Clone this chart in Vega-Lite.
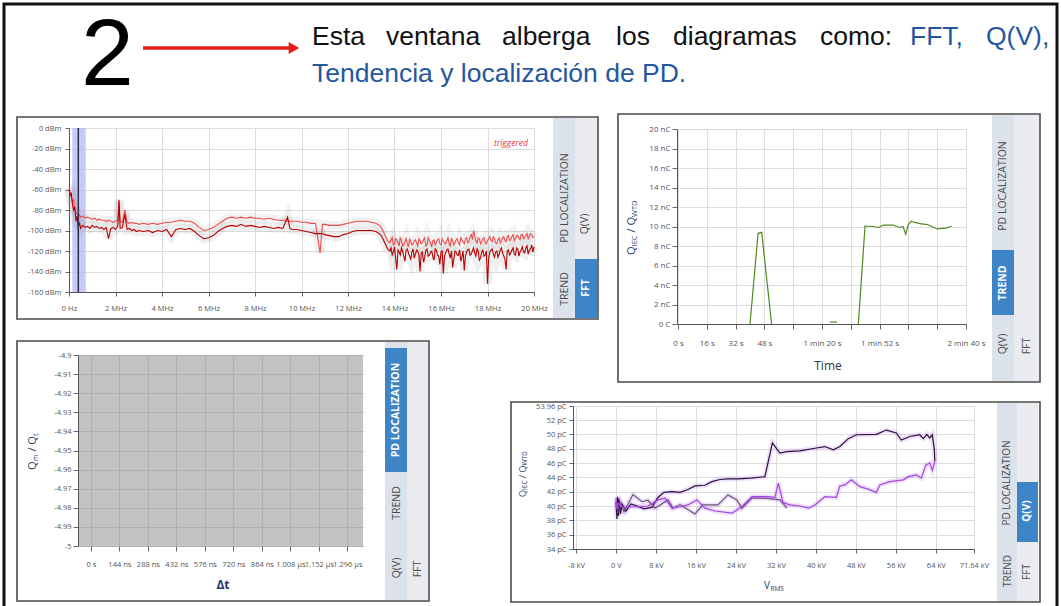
{
"$schema": "https://vega.github.io/schema/vega-lite/v6.json",
"width": 1061,
"height": 606,
"autosize": "none",
"padding": 0,
"background": "#ffffff",
"config": {
  "view": {"stroke": null},
  "axis": {"labelFont": "Open Sans", "labelFontSize": 7.5, "labelColor": "#555555", "tickColor": "#666666", "domainColor": "#555555", "gridColor": "#dcdcdc", "tickSize": 4, "labelFlush": false, "labelOverlap": false}
},
"datasets": {
  "fft": [
    {"f":0,"hi":-58,"lo":-60},{"f":0.05,"hi":-63,"lo":-66},{"f":0.1,"hi":-68,"lo":-64},{"f":0.15,"hi":-72,"lo":-75},{"f":0.2,"hi":-70,"lo":-80},{"f":0.25,"hi":-79,"lo":-77},{"f":0.3,"hi":-82,"lo":-91},{"f":0.35,"hi":-84,"lo":-86},{"f":0.4,"hi":-86,"lo":-97},{"f":0.45,"hi":-85,"lo":-92},{"f":0.5,"hi":-87,"lo":-98},
    {"f":0.6,"hi":-86,"lo":-95},{"f":0.7,"hi":-88,"lo":-97},{"f":0.8,"hi":-87,"lo":-96},{"f":0.9,"hi":-88,"lo":-98},{"f":1.0,"hi":-89,"lo":-95},{"f":1.1,"hi":-88,"lo":-97},{"f":1.2,"hi":-90,"lo":-96},{"f":1.3,"hi":-89,"lo":-98},{"f":1.4,"hi":-90,"lo":-97},{"f":1.5,"hi":-90,"lo":-99},
    {"f":1.6,"hi":-91,"lo":-97},{"f":1.7,"hi":-90,"lo":-108},{"f":1.8,"hi":-91,"lo":-98},{"f":1.9,"hi":-92,"lo":-97},{"f":2.0,"hi":-91,"lo":-99},{"f":2.1,"hi":-90,"lo":-96},{"f":2.15,"hi":-72,"lo":-70},{"f":2.2,"hi":-91,"lo":-98},{"f":2.3,"hi":-92,"lo":-97},{"f":2.4,"hi":-80,"lo":-84},
    {"f":2.5,"hi":-92,"lo":-99},{"f":2.6,"hi":-93,"lo":-98},{"f":2.7,"hi":-92,"lo":-100},{"f":2.8,"hi":-93,"lo":-99},{"f":2.9,"hi":-93,"lo":-101},{"f":3.0,"hi":-94,"lo":-100},{"f":3.2,"hi":-93,"lo":-101},{"f":3.4,"hi":-94,"lo":-100},{"f":3.6,"hi":-93,"lo":-102},{"f":3.8,"hi":-94,"lo":-100},
    {"f":4.0,"hi":-93,"lo":-101},{"f":4.2,"hi":-92,"lo":-99},{"f":4.4,"hi":-92,"lo":-106},{"f":4.6,"hi":-91,"lo":-99},{"f":4.8,"hi":-90,"lo":-98},{"f":5.0,"hi":-91,"lo":-99},{"f":5.2,"hi":-91,"lo":-98},{"f":5.4,"hi":-93,"lo":-101},{"f":5.6,"hi":-97,"lo":-105},{"f":5.8,"hi":-100,"lo":-108},
    {"f":6.0,"hi":-99,"lo":-107},{"f":6.2,"hi":-97,"lo":-105},{"f":6.4,"hi":-94,"lo":-101},{"f":6.6,"hi":-91,"lo":-98},{"f":6.8,"hi":-88,"lo":-96},{"f":7.0,"hi":-87,"lo":-95},{"f":7.2,"hi":-88,"lo":-96},{"f":7.4,"hi":-87,"lo":-94},{"f":7.6,"hi":-88,"lo":-96},{"f":7.8,"hi":-87,"lo":-95},
    {"f":8.0,"hi":-88,"lo":-96},{"f":8.2,"hi":-88,"lo":-97},{"f":8.4,"hi":-89,"lo":-96},{"f":8.6,"hi":-88,"lo":-97},{"f":8.8,"hi":-89,"lo":-98},{"f":9.0,"hi":-90,"lo":-97},{"f":9.2,"hi":-90,"lo":-98},{"f":9.4,"hi":-91,"lo":-87},{"f":9.5,"hi":-91,"lo":-98},{"f":9.6,"hi":-91,"lo":-99},
    {"f":9.8,"hi":-91,"lo":-99},{"f":10.0,"hi":-92,"lo":-100},{"f":10.2,"hi":-92,"lo":-101},{"f":10.4,"hi":-93,"lo":-102},{"f":10.6,"hi":-93,"lo":-103},{"f":10.8,"hi":-122,"lo":-103},{"f":10.9,"hi":-94,"lo":-103},{"f":11.0,"hi":-94,"lo":-104},{"f":11.2,"hi":-95,"lo":-105},{"f":11.4,"hi":-95,"lo":-106},
    {"f":11.6,"hi":-95,"lo":-106},{"f":11.8,"hi":-94,"lo":-104},{"f":12.0,"hi":-93,"lo":-103},{"f":12.2,"hi":-92,"lo":-101},{"f":12.4,"hi":-91,"lo":-100},{"f":12.6,"hi":-91,"lo":-100},{"f":12.8,"hi":-91,"lo":-100},{"f":13.0,"hi":-92,"lo":-100},{"f":13.2,"hi":-93,"lo":-101},{"f":13.4,"hi":-96,"lo":-104},
    {"f":13.5,"hi":-100,"lo":-108},{"f":13.6,"hi":-105,"lo":-113},{"f":13.7,"hi":-110,"lo":-118},
    {"f":13.8,"hi":-112,"lo":-120},{"f":13.85,"hi":-109,"lo":-117},{"f":13.9,"hi":-107,"lo":-124},{"f":13.95,"hi":-114,"lo":-121},{"f":14.0,"hi":-113,"lo":-116},{"f":14.05,"hi":-108,"lo":-127},{"f":14.1,"hi":-109,"lo":-138},{"f":14.15,"hi":-112,"lo":-119},{"f":14.2,"hi":-115,"lo":-121},{"f":14.25,"hi":-107,"lo":-124},
    {"f":14.3,"hi":-110,"lo":-117},{"f":14.35,"hi":-115,"lo":-120},{"f":14.4,"hi":-114,"lo":-125},{"f":14.45,"hi":-111,"lo":-130},{"f":14.5,"hi":-108,"lo":-119},{"f":14.55,"hi":-113,"lo":-118},{"f":14.6,"hi":-116,"lo":-122},{"f":14.65,"hi":-108,"lo":-125},{"f":14.7,"hi":-111,"lo":-128},{"f":14.75,"hi":-114,"lo":-121},
    {"f":14.8,"hi":-113,"lo":-118},{"f":14.85,"hi":-110,"lo":-127},{"f":14.9,"hi":-109,"lo":-123},{"f":14.95,"hi":-112,"lo":-119},{"f":15.0,"hi":-115,"lo":-120},{"f":15.05,"hi":-108,"lo":-124},{"f":15.1,"hi":-110,"lo":-140},{"f":15.15,"hi":-113,"lo":-122},{"f":15.2,"hi":-112,"lo":-121},{"f":15.25,"hi":-109,"lo":-131},
    {"f":15.3,"hi":-107,"lo":-126},{"f":15.35,"hi":-115,"lo":-119},{"f":15.4,"hi":-114,"lo":-118},{"f":15.45,"hi":-107,"lo":-125},{"f":15.5,"hi":-110,"lo":-124},{"f":15.55,"hi":-112,"lo":-121},{"f":15.6,"hi":-116,"lo":-120},{"f":15.65,"hi":-110,"lo":-126},{"f":15.7,"hi":-109,"lo":-129},{"f":15.75,"hi":-114,"lo":-118},
    {"f":15.8,"hi":-112,"lo":-119},{"f":15.85,"hi":-109,"lo":-124},{"f":15.9,"hi":-108,"lo":-125},{"f":15.95,"hi":-113,"lo":-133},{"f":16.0,"hi":-114,"lo":-121},{"f":16.05,"hi":-108,"lo":-120},{"f":16.1,"hi":-111,"lo":-142},{"f":16.15,"hi":-112,"lo":-125},{"f":16.2,"hi":-113,"lo":-122},{"f":16.25,"hi":-110,"lo":-119},
    {"f":16.3,"hi":-107,"lo":-118},{"f":16.35,"hi":-113,"lo":-123},{"f":16.4,"hi":-115,"lo":-127},{"f":16.45,"hi":-108,"lo":-120},{"f":16.5,"hi":-110,"lo":-136},{"f":16.55,"hi":-114,"lo":-128},{"f":16.6,"hi":-112,"lo":-120},{"f":16.65,"hi":-109,"lo":-121},{"f":16.7,"hi":-108,"lo":-124},{"f":16.75,"hi":-112,"lo":-124},
    {"f":16.8,"hi":-114,"lo":-119},{"f":16.85,"hi":-107,"lo":-130},{"f":16.9,"hi":-109,"lo":-126},{"f":16.95,"hi":-111,"lo":-120},{"f":17.0,"hi":-113,"lo":-139},{"f":17.05,"hi":-108,"lo":-125},{"f":17.1,"hi":-107,"lo":-121},{"f":17.15,"hi":-112,"lo":-119},{"f":17.2,"hi":-111,"lo":-118},{"f":17.25,"hi":-106,"lo":-124},
    {"f":17.3,"hi":-104,"lo":-123},{"f":17.35,"hi":-109,"lo":-120},{"f":17.4,"hi":-100,"lo":-117},{"f":17.45,"hi":-105,"lo":-122},{"f":17.5,"hi":-110,"lo":-125},{"f":17.55,"hi":-112,"lo":-118},{"f":17.6,"hi":-107,"lo":-120},{"f":17.65,"hi":-108,"lo":-129},{"f":17.7,"hi":-113,"lo":-127},{"f":17.75,"hi":-111,"lo":-121},
    {"f":17.8,"hi":-108,"lo":-119},{"f":17.85,"hi":-107,"lo":-125},{"f":17.9,"hi":-112,"lo":-124},{"f":17.95,"hi":-113,"lo":-120},{"f":18.0,"hi":-110,"lo":-152},{"f":18.05,"hi":-108,"lo":-127},{"f":18.1,"hi":-106,"lo":-121},{"f":18.15,"hi":-110,"lo":-119},{"f":18.2,"hi":-111,"lo":-118},{"f":18.25,"hi":-106,"lo":-123},
    {"f":18.3,"hi":-108,"lo":-126},{"f":18.35,"hi":-112,"lo":-121},{"f":18.4,"hi":-113,"lo":-120},{"f":18.45,"hi":-109,"lo":-126},{"f":18.5,"hi":-107,"lo":-123},{"f":18.55,"hi":-112,"lo":-119},{"f":18.6,"hi":-110,"lo":-117},{"f":18.65,"hi":-107,"lo":-122},{"f":18.7,"hi":-106,"lo":-125},{"f":18.75,"hi":-110,"lo":-128},
    {"f":18.8,"hi":-111,"lo":-138},{"f":18.85,"hi":-106,"lo":-120},{"f":18.9,"hi":-105,"lo":-119},{"f":18.95,"hi":-110,"lo":-124},{"f":19.0,"hi":-109,"lo":-122},{"f":19.05,"hi":-106,"lo":-119},{"f":19.1,"hi":-104,"lo":-117},{"f":19.15,"hi":-110,"lo":-123},{"f":19.2,"hi":-108,"lo":-124},{"f":19.25,"hi":-105,"lo":-117},
    {"f":19.3,"hi":-105,"lo":-118},{"f":19.35,"hi":-108,"lo":-125},{"f":19.4,"hi":-109,"lo":-121},{"f":19.45,"hi":-104,"lo":-119},{"f":19.5,"hi":-104,"lo":-116},{"f":19.55,"hi":-108,"lo":-121},{"f":19.6,"hi":-107,"lo":-122},{"f":19.65,"hi":-105,"lo":-117},{"f":19.7,"hi":-103,"lo":-115},{"f":19.75,"hi":-108,"lo":-123},
    {"f":19.8,"hi":-106,"lo":-119},{"f":19.85,"hi":-103,"lo":-118},{"f":19.9,"hi":-104,"lo":-114},{"f":19.95,"hi":-107,"lo":-121},{"f":20.0,"hi":-106,"lo":-116}
  ],
  "trend": [
    {"t":40,"q":0,"s":1},{"t":44.5,"q":9.3,"s":1},{"t":46.5,"q":9.4,"s":1},{"t":52,"q":0,"s":1},
    {"t":84.4,"q":0.2,"s":2},{"t":88.3,"q":0.2,"s":2},
    {"t":100.2,"q":0,"s":3},{"t":103.9,"q":10.05,"s":3},{"t":108.5,"q":10.0,"s":3},{"t":111.5,"q":9.9,"s":3},{"t":114,"q":10.15,"s":3},{"t":119.5,"q":10.15,"s":3},{"t":123,"q":9.9,"s":3},{"t":125,"q":10.0,"s":3},{"t":126.5,"q":9.2,"s":3},{"t":128,"q":10.2,"s":3},{"t":129.5,"q":10.55,"s":3},{"t":131,"q":10.45,"s":3},{"t":134.5,"q":10.3,"s":3},{"t":138.5,"q":10.2,"s":3},{"t":144,"q":9.75,"s":3},{"t":147,"q":9.8,"s":3},{"t":149.5,"q":9.85,"s":3},{"t":152,"q":10.05,"s":3}
  ],
  "qv": [
    {"s":"A","o":1,"v":0.0,"q":40.6},{"s":"A","o":2,"v":0.2,"q":38.2},{"s":"A","o":3,"v":0.3,"q":41.3},{"s":"A","o":4,"v":0.5,"q":38.6},{"s":"A","o":5,"v":0.6,"q":41.0},{"s":"A","o":6,"v":0.9,"q":38.9},{"s":"A","o":7,"v":1.2,"q":40.3},{"s":"A","o":8,"v":2.0,"q":39.3},{"s":"A","o":9,"v":3.0,"q":40.3},{"s":"A","o":10,"v":4.2,"q":40.0},
    {"s":"A","o":11,"v":5.6,"q":39.6},{"s":"A","o":12,"v":7.2,"q":39.8},{"s":"A","o":13,"v":8.4,"q":41.2},{"s":"A","o":14,"v":9.6,"q":41.9},{"s":"A","o":15,"v":11.2,"q":42.0},{"s":"A","o":16,"v":12.8,"q":41.9},{"s":"A","o":17,"v":14.4,"q":42.3},{"s":"A","o":18,"v":15.8,"q":42.8},{"s":"A","o":19,"v":17.8,"q":42.9},{"s":"A","o":20,"v":19.2,"q":43.4},
    {"s":"A","o":21,"v":20.8,"q":43.7},{"s":"A","o":22,"v":22.4,"q":43.8},{"s":"A","o":23,"v":24.4,"q":43.8},{"s":"A","o":24,"v":27.0,"q":43.9},{"s":"A","o":25,"v":29.8,"q":44.1},{"s":"A","o":26,"v":31.3,"q":48.8},{"s":"A","o":27,"v":32.8,"q":47.4},{"s":"A","o":28,"v":34.1,"q":47.6},{"s":"A","o":29,"v":36.8,"q":47.7},{"s":"A","o":30,"v":40.1,"q":48.1},
    {"s":"A","o":31,"v":41.8,"q":48.3},{"s":"A","o":32,"v":43.5,"q":47.85},{"s":"A","o":33,"v":44.8,"q":48.3},{"s":"A","o":34,"v":46.5,"q":49.4},{"s":"A","o":35,"v":48.1,"q":49.95},{"s":"A","o":36,"v":52.1,"q":50.0},{"s":"A","o":37,"v":54.1,"q":50.6},{"s":"A","o":38,"v":56.1,"q":50.2},{"s":"A","o":39,"v":57.1,"q":49.2},{"s":"A","o":40,"v":58.8,"q":49.7},
    {"s":"A","o":41,"v":60.8,"q":49.95},{"s":"A","o":42,"v":61.5,"q":49.4},{"s":"A","o":43,"v":62.2,"q":50.0},{"s":"A","o":44,"v":62.8,"q":49.5},{"s":"A","o":45,"v":63.3,"q":49.95},{"s":"A","o":46,"v":63.7,"q":47.9},{"s":"A","o":47,"v":63.8,"q":46.2},
    {"s":"B","o":1,"v":0.3,"q":39.0},{"s":"B","o":2,"v":0.8,"q":40.6},{"s":"B","o":3,"v":1.6,"q":39.2},{"s":"B","o":4,"v":3.4,"q":41.6},{"s":"B","o":5,"v":5.2,"q":40.6},{"s":"B","o":6,"v":6.4,"q":40.8},{"s":"B","o":7,"v":7.8,"q":39.7},{"s":"B","o":8,"v":10.4,"q":40.85},{"s":"B","o":9,"v":11.4,"q":39.7},{"s":"B","o":10,"v":12.8,"q":40.2},
    {"s":"B","o":11,"v":14.4,"q":39.5},{"s":"B","o":12,"v":15.8,"q":38.9},{"s":"B","o":13,"v":17.4,"q":40.15},{"s":"B","o":14,"v":20.4,"q":40.15},{"s":"B","o":15,"v":22.4,"q":41.55},{"s":"B","o":16,"v":24.2,"q":40.85},{"s":"B","o":17,"v":25.2,"q":39.7},{"s":"B","o":18,"v":27.2,"q":41.1},{"s":"B","o":19,"v":29.8,"q":41.1},{"s":"B","o":20,"v":32.8,"q":40.85},{"s":"B","o":21,"v":34.2,"q":39.7},
    {"s":"C","o":1,"v":63.8,"q":46.2},{"s":"C","o":2,"v":63.3,"q":45.0},{"s":"C","o":3,"v":62.8,"q":46.0},{"s":"C","o":4,"v":62.0,"q":45.7},{"s":"C","o":5,"v":61.1,"q":43.9},{"s":"C","o":6,"v":60.1,"q":44.35},{"s":"C","o":7,"v":58.5,"q":44.1},{"s":"C","o":8,"v":57.5,"q":43.65},{"s":"C","o":9,"v":54.8,"q":43.4},{"s":"C","o":10,"v":52.8,"q":42.95},
    {"s":"C","o":11,"v":52.1,"q":41.9},{"s":"C","o":12,"v":50.5,"q":42.35},{"s":"C","o":13,"v":48.8,"q":42.7},{"s":"C","o":14,"v":47.1,"q":43.65},{"s":"C","o":15,"v":45.8,"q":42.95},{"s":"C","o":16,"v":44.8,"q":42.8},{"s":"C","o":17,"v":44.1,"q":41.2},{"s":"C","o":18,"v":41.8,"q":41.3},{"s":"C","o":19,"v":39.8,"q":40.15},{"s":"C","o":20,"v":38.5,"q":39.7},
    {"s":"C","o":21,"v":36.8,"q":40.0},{"s":"C","o":22,"v":34.8,"q":40.15},{"s":"C","o":23,"v":33.4,"q":40.5},{"s":"C","o":24,"v":32.5,"q":43.2},{"s":"C","o":25,"v":31.8,"q":41.2},{"s":"C","o":26,"v":30.4,"q":41.3},{"s":"C","o":27,"v":27.2,"q":41.3},{"s":"C","o":28,"v":25.2,"q":39.9},{"s":"C","o":29,"v":23.2,"q":39.0},{"s":"C","o":30,"v":19.8,"q":39.3},
    {"s":"C","o":31,"v":17.8,"q":39.7},{"s":"C","o":32,"v":16.2,"q":40.85},{"s":"C","o":33,"v":14.4,"q":40.15},{"s":"C","o":34,"v":12.8,"q":39.9},{"s":"C","o":35,"v":11.2,"q":39.7},{"s":"C","o":36,"v":9.8,"q":41.1},{"s":"C","o":37,"v":8.4,"q":40.85},{"s":"C","o":38,"v":6.4,"q":40.0},{"s":"C","o":39,"v":4.8,"q":39.9},{"s":"C","o":40,"v":2.8,"q":39.9},
    {"s":"C","o":41,"v":1.8,"q":39.7},{"s":"C","o":42,"v":0.4,"q":40.4},{"s":"C","o":43,"v":0.2,"q":39.5},{"s":"C","o":44,"v":0.0,"q":41.1}
  ]
},
"layer": [
  {
    "data": {"name": "fft"},
    "layer": [
      {"data": {"values": [{}]},
       "mark": {"type": "rect", "color": "#b4b4f4", "opacity": 0.7},
       "encoding": {
         "x": {"datum": 0.14, "type": "quantitative", "scale": {"domain": [0, 20], "range": [69, 534]}, "axis": {"orient": "top", "grid": true, "labels": false, "ticks": false, "domain": false, "values": [0,2,4,6,8,10,12,14,16,18,20], "title": null}},
         "x2": {"datum": 0.72},
         "y": {"datum": -160, "type": "quantitative", "scale": {"domain": [-160, 0], "range": [292, 128]}, "axis": null},
         "y2": {"datum": 0}}},
      {"mark": {"type": "line", "color": "#808080", "opacity": 0.13, "strokeWidth": 9},
       "encoding": {
         "x": {"field": "f", "type": "quantitative", "scale": {"domain": [0, 20], "range": [69, 534]}, "axis": null},
         "y": {"field": "lo", "type": "quantitative", "scale": {"domain": [-160, 0], "range": [292, 128]}, "axis": null}}},
      {"mark": {"type": "line", "color": "#808080", "opacity": 0.1, "strokeWidth": 9},
       "encoding": {
         "x": {"field": "f", "type": "quantitative", "scale": {"domain": [0, 20], "range": [69, 534]}, "axis": null},
         "y": {"field": "hi", "type": "quantitative", "scale": {"domain": [-160, 0], "range": [292, 128]}, "axis": null}}},
      {"mark": {"type": "line", "color": "#f04a4a", "strokeWidth": 1.1},
       "encoding": {
         "x": {"field": "f", "type": "quantitative", "scale": {"domain": [0, 20], "range": [69, 534]}, "axis": {"orient": "bottom", "offset": -314, "grid": false, "values": [0,2,4,6,8,10,12,14,16,18,20], "labelExpr": "datum.value == 0 ? '0 Hz' : datum.value + ' MHz'", "labelPadding": 8, "title": null}},
         "y": {"field": "hi", "type": "quantitative", "scale": {"domain": [-160, 0], "range": [292, 128]}, "axis": {"orient": "left", "offset": -69, "grid": true, "values": [-160,-140,-120,-100,-80,-60,-40,-20,0], "labelExpr": "datum.value + ' dBm'", "labelPadding": 4, "title": null}}}},
      {"mark": {"type": "line", "color": "#b80000", "strokeWidth": 1.1},
       "encoding": {
         "x": {"field": "f", "type": "quantitative", "scale": {"domain": [0, 20], "range": [69, 534]}, "axis": null},
         "y": {"field": "lo", "type": "quantitative", "scale": {"domain": [-160, 0], "range": [292, 128]}, "axis": null}}},
      {"data": {"values": [{}]},
       "mark": {"type": "rule", "color": "#2a2a4a", "strokeWidth": 1.5},
       "encoding": {
         "x": {"datum": 0.4, "type": "quantitative", "scale": {"domain": [0, 20], "range": [69, 534]}, "axis": null},
         "y": {"datum": -160, "type": "quantitative", "scale": {"domain": [-160, 0], "range": [292, 128]}, "axis": null},
         "y2": {"datum": 0}}}
    ],
    "resolve": {"axis": {"x": "independent", "y": "independent"}}
  },
  {
    "data": {"name": "trend"},
    "layer": [
      {"data": {"values": [{}]},
       "mark": {"type": "rect", "opacity": 0},
       "encoding": {
         "x": {"datum": 0, "type": "quantitative", "scale": {"domain": [0, 160], "range": [678, 966]}, "axis": {"orient": "top", "grid": true, "labels": false, "ticks": false, "domain": false, "values": [0,16,32,48,64,80,96,112,128,144,160], "title": null}},
         "x2": {"datum": 160},
         "y": {"datum": 0, "type": "quantitative", "scale": {"domain": [0, 20], "range": [324, 129]}, "axis": null},
         "y2": {"datum": 20}}},
      {"mark": {"type": "line", "color": "#4e8a20", "strokeWidth": 1.2},
       "encoding": {
         "x": {"field": "t", "type": "quantitative", "scale": {"domain": [0, 160], "range": [678, 966]}, "axis": {"orient": "bottom", "offset": -282, "grid": false, "values": [0,16,32,48,64,80,96,112,128,144,160], "labelExpr": "datum.value == 0 ? '0 s' : datum.value < 60 ? datum.value + ' s' : indexof([80,112,160], datum.value) >= 0 ? floor(datum.value/60) + ' min ' + (datum.value % 60) + ' s' : ''", "labelPadding": 10, "labelFontSize": 8, "tickSize": 5, "title": null}},
         "y": {"field": "q", "type": "quantitative", "scale": {"domain": [0, 20], "range": [324, 129]}, "axis": {"orient": "left", "offset": -677, "grid": true, "values": [0,2,4,6,8,10,12,14,16,18,20], "labelExpr": "datum.value == 0 ? '0 C' : datum.value + ' nC'", "labelPadding": 2, "labelFontSize": 8, "tickSize": 5, "title": null}},
         "detail": {"field": "s", "type": "nominal"}}}
    ],
    "resolve": {"axis": {"x": "independent", "y": "independent"}}
  },
  {
    "data": {"values": [{}]},
    "layer": [
      {"mark": {"type": "rect", "color": "#c3c3c3"},
       "encoding": {
         "x": {"datum": -65, "type": "quantitative", "scale": {"domain": [-65, 1375], "range": [78, 363]}, "axis": {"orient": "top", "grid": true, "labels": false, "ticks": false, "domain": false, "values": [0,144,288,432,576,720,864,1008,1152,1296], "gridColor": "#b0b0b0", "zindex": 1, "title": null}},
         "x2": {"datum": 1375},
         "y": {"datum": -5, "type": "quantitative", "scale": {"domain": [-5, -4.9], "range": [546, 355]}, "axis": {"orient": "left", "offset": -78, "grid": true, "gridColor": "#b0b0b0", "zindex": 1, "values": [-5,-4.99,-4.98,-4.97,-4.96,-4.95,-4.94,-4.93,-4.92,-4.91,-4.9], "labelExpr": "toString(round(datum.value*100)/100)", "labelPadding": 2, "tickSize": 5, "title": null}},
         "y2": {"datum": -4.9}}},
      {"mark": {"type": "rect", "opacity": 0},
       "encoding": {
         "x": {"datum": -65, "type": "quantitative", "scale": {"domain": [-65, 1375], "range": [78, 363]}, "axis": {"orient": "bottom", "offset": -60, "grid": false, "values": [0,144,288,432,576,720,864,1008,1152,1296], "labelExpr": "datum.value == 0 ? '0 s' : datum.value < 1000 ? datum.value + ' ns' : format(datum.value/1000, '.3f') + ' µs'", "labelPadding": 9, "tickSize": 5, "title": null}},
         "x2": {"datum": 1375},
         "y": {"datum": -5, "type": "quantitative", "scale": {"domain": [-5, -4.9], "range": [546, 355]}, "axis": null},
         "y2": {"datum": -4.9}}}
    ],
    "resolve": {"axis": {"x": "independent", "y": "independent"}}
  },
  {
    "data": {"name": "qv"},
    "layer": [
      {"data": {"values": [{}]},
       "mark": {"type": "rect", "opacity": 0},
       "encoding": {
         "x": {"datum": -8.6, "type": "quantitative", "scale": {"domain": [-8.6, 71.64], "range": [573, 974]}, "axis": {"orient": "top", "grid": true, "labels": false, "ticks": false, "domain": false, "values": [-8,0,8,16,24,32,40,48,56,64,71.64], "title": null}},
         "x2": {"datum": 71.64},
         "y": {"datum": 34, "type": "quantitative", "scale": {"domain": [34, 53.96], "range": [549, 406]}, "axis": null},
         "y2": {"datum": 53.96}}},
      {"mark": {"type": "line", "color": "#b56ae8", "opacity": 0.2, "strokeWidth": 5},
       "encoding": {
         "x": {"field": "v", "type": "quantitative", "scale": {"domain": [-8.6, 71.64], "range": [573, 974]}, "axis": null},
         "y": {"field": "q", "type": "quantitative", "scale": {"domain": [34, 53.96], "range": [549, 406]}, "axis": null},
         "detail": {"field": "s", "type": "nominal"},
         "order": {"field": "o", "type": "quantitative"}}},
      {"mark": {"type": "line", "strokeWidth": 1.2},
       "encoding": {
         "x": {"field": "v", "type": "quantitative", "scale": {"domain": [-8.6, 71.64], "range": [573, 974]}, "axis": {"orient": "bottom", "offset": -57, "grid": false, "values": [-8,0,8,16,24,32,40,48,56,64,71.64], "labelExpr": "datum.value == 0 ? '0 V' : datum.value + ' kV'", "labelPadding": 8, "title": null}},
         "y": {"field": "q", "type": "quantitative", "scale": {"domain": [34, 53.96], "range": [549, 406]}, "axis": {"orient": "left", "offset": -573, "grid": true, "values": [34,36,38,40,42,44,46,48,50,52,53.96], "labelExpr": "datum.value + ' pC'", "labelPadding": 3, "title": null}},
         "color": {"field": "s", "type": "nominal", "scale": {"domain": ["A","B","C"], "range": ["#2d0f3f","#6a5478","#a543e6"]}, "legend": null},
         "order": {"field": "o", "type": "quantitative"}}}
    ],
    "resolve": {"axis": {"x": "independent", "y": "independent"}}
  },
  {
    "data": {"values": [{}]},
    "layer": [
      {"mark": {"type": "rect", "color": "#dbe2ea"}, "encoding": {"x": {"datum": 553, "type": "quantitative", "scale": {"domain": [0,1061], "range": [0,1061]}, "axis": null}, "x2": {"datum": 575}, "y": {"datum": 118, "type": "quantitative", "scale": {"domain": [0,606], "range": [0,606]}, "axis": null}, "y2": {"datum": 318}}},
      {"mark": {"type": "rect", "color": "#e9ebee"}, "encoding": {"x": {"datum": 575, "type": "quantitative", "scale": {"domain": [0,1061], "range": [0,1061]}, "axis": null}, "x2": {"datum": 597}, "y": {"datum": 118, "type": "quantitative", "scale": {"domain": [0,606], "range": [0,606]}, "axis": null}, "y2": {"datum": 318}}},
      {"mark": {"type": "rect", "color": "#3d85c6"}, "encoding": {"x": {"datum": 575, "type": "quantitative", "scale": {"domain": [0,1061], "range": [0,1061]}, "axis": null}, "x2": {"datum": 597}, "y": {"datum": 259, "type": "quantitative", "scale": {"domain": [0,606], "range": [0,606]}, "axis": null}, "y2": {"datum": 318}}},
      {"mark": {"type": "text", "text": "PD LOCALIZATION", "angle": 270, "align": "center", "baseline": "middle", "font": "Open Sans", "fontSize": 10.5, "color": "#4a4a4a"}, "encoding": {"x": {"datum": 565, "type": "quantitative", "scale": {"domain": [0,1061], "range": [0,1061]}, "axis": null}, "y": {"datum": 198, "type": "quantitative", "scale": {"domain": [0,606], "range": [0,606]}, "axis": null}}},
      {"mark": {"type": "text", "text": "TREND", "angle": 270, "align": "center", "baseline": "middle", "font": "Open Sans", "fontSize": 10.5, "color": "#4a4a4a"}, "encoding": {"x": {"datum": 565, "type": "quantitative", "scale": {"domain": [0,1061], "range": [0,1061]}, "axis": null}, "y": {"datum": 289, "type": "quantitative", "scale": {"domain": [0,606], "range": [0,606]}, "axis": null}}},
      {"mark": {"type": "text", "text": "Q(V)", "angle": 270, "align": "center", "baseline": "middle", "font": "Open Sans", "fontSize": 10.5, "color": "#4a4a4a"}, "encoding": {"x": {"datum": 585, "type": "quantitative", "scale": {"domain": [0,1061], "range": [0,1061]}, "axis": null}, "y": {"datum": 224, "type": "quantitative", "scale": {"domain": [0,606], "range": [0,606]}, "axis": null}}},
      {"mark": {"type": "text", "text": "FFT", "angle": 270, "align": "center", "baseline": "middle", "font": "Open Sans", "fontSize": 10.5, "fontWeight": "bold", "color": "#ffffff"}, "encoding": {"x": {"datum": 586, "type": "quantitative", "scale": {"domain": [0,1061], "range": [0,1061]}, "axis": null}, "y": {"datum": 288, "type": "quantitative", "scale": {"domain": [0,606], "range": [0,606]}, "axis": null}}},

      {"mark": {"type": "rect", "color": "#dbe2ea"}, "encoding": {"x": {"datum": 992, "type": "quantitative", "scale": {"domain": [0,1061], "range": [0,1061]}, "axis": null}, "x2": {"datum": 1014}, "y": {"datum": 115, "type": "quantitative", "scale": {"domain": [0,606], "range": [0,606]}, "axis": null}, "y2": {"datum": 381}}},
      {"mark": {"type": "rect", "color": "#e9ebee"}, "encoding": {"x": {"datum": 1014, "type": "quantitative", "scale": {"domain": [0,1061], "range": [0,1061]}, "axis": null}, "x2": {"datum": 1039}, "y": {"datum": 115, "type": "quantitative", "scale": {"domain": [0,606], "range": [0,606]}, "axis": null}, "y2": {"datum": 381}}},
      {"mark": {"type": "rect", "color": "#3d85c6"}, "encoding": {"x": {"datum": 992, "type": "quantitative", "scale": {"domain": [0,1061], "range": [0,1061]}, "axis": null}, "x2": {"datum": 1014}, "y": {"datum": 250, "type": "quantitative", "scale": {"domain": [0,606], "range": [0,606]}, "axis": null}, "y2": {"datum": 315}}},
      {"mark": {"type": "text", "text": "PD LOCALIZATION", "angle": 270, "align": "center", "baseline": "middle", "font": "Open Sans", "fontSize": 10.5, "color": "#4a4a4a"}, "encoding": {"x": {"datum": 1003, "type": "quantitative", "scale": {"domain": [0,1061], "range": [0,1061]}, "axis": null}, "y": {"datum": 186, "type": "quantitative", "scale": {"domain": [0,606], "range": [0,606]}, "axis": null}}},
      {"mark": {"type": "text", "text": "TREND", "angle": 270, "align": "center", "baseline": "middle", "font": "Open Sans", "fontSize": 10.5, "fontWeight": "bold", "color": "#ffffff"}, "encoding": {"x": {"datum": 1003, "type": "quantitative", "scale": {"domain": [0,1061], "range": [0,1061]}, "axis": null}, "y": {"datum": 283, "type": "quantitative", "scale": {"domain": [0,606], "range": [0,606]}, "axis": null}}},
      {"mark": {"type": "text", "text": "Q(V)", "angle": 270, "align": "center", "baseline": "middle", "font": "Open Sans", "fontSize": 10.5, "color": "#4a4a4a"}, "encoding": {"x": {"datum": 1003, "type": "quantitative", "scale": {"domain": [0,1061], "range": [0,1061]}, "axis": null}, "y": {"datum": 344, "type": "quantitative", "scale": {"domain": [0,606], "range": [0,606]}, "axis": null}}},
      {"mark": {"type": "text", "text": "FFT", "angle": 270, "align": "center", "baseline": "middle", "font": "Open Sans", "fontSize": 10.5, "color": "#4a4a4a"}, "encoding": {"x": {"datum": 1027, "type": "quantitative", "scale": {"domain": [0,1061], "range": [0,1061]}, "axis": null}, "y": {"datum": 346, "type": "quantitative", "scale": {"domain": [0,606], "range": [0,606]}, "axis": null}}},

      {"mark": {"type": "rect", "color": "#dbe2ea"}, "encoding": {"x": {"datum": 385, "type": "quantitative", "scale": {"domain": [0,1061], "range": [0,1061]}, "axis": null}, "x2": {"datum": 407}, "y": {"datum": 342, "type": "quantitative", "scale": {"domain": [0,606], "range": [0,606]}, "axis": null}, "y2": {"datum": 600}}},
      {"mark": {"type": "rect", "color": "#e9ebee"}, "encoding": {"x": {"datum": 407, "type": "quantitative", "scale": {"domain": [0,1061], "range": [0,1061]}, "axis": null}, "x2": {"datum": 428}, "y": {"datum": 342, "type": "quantitative", "scale": {"domain": [0,606], "range": [0,606]}, "axis": null}, "y2": {"datum": 600}}},
      {"mark": {"type": "rect", "color": "#3d85c6"}, "encoding": {"x": {"datum": 385, "type": "quantitative", "scale": {"domain": [0,1061], "range": [0,1061]}, "axis": null}, "x2": {"datum": 407}, "y": {"datum": 348, "type": "quantitative", "scale": {"domain": [0,606], "range": [0,606]}, "axis": null}, "y2": {"datum": 472}}},
      {"mark": {"type": "text", "text": "PD LOCALIZATION", "angle": 270, "align": "center", "baseline": "middle", "font": "Open Sans", "fontSize": 10.5, "fontWeight": "bold", "color": "#ffffff"}, "encoding": {"x": {"datum": 396, "type": "quantitative", "scale": {"domain": [0,1061], "range": [0,1061]}, "axis": null}, "y": {"datum": 410, "type": "quantitative", "scale": {"domain": [0,606], "range": [0,606]}, "axis": null}}},
      {"mark": {"type": "text", "text": "TREND", "angle": 270, "align": "center", "baseline": "middle", "font": "Open Sans", "fontSize": 10.5, "color": "#4a4a4a"}, "encoding": {"x": {"datum": 397, "type": "quantitative", "scale": {"domain": [0,1061], "range": [0,1061]}, "axis": null}, "y": {"datum": 503, "type": "quantitative", "scale": {"domain": [0,606], "range": [0,606]}, "axis": null}}},
      {"mark": {"type": "text", "text": "Q(V)", "angle": 270, "align": "center", "baseline": "middle", "font": "Open Sans", "fontSize": 10.5, "color": "#4a4a4a"}, "encoding": {"x": {"datum": 397, "type": "quantitative", "scale": {"domain": [0,1061], "range": [0,1061]}, "axis": null}, "y": {"datum": 568, "type": "quantitative", "scale": {"domain": [0,606], "range": [0,606]}, "axis": null}}},
      {"mark": {"type": "text", "text": "FFT", "angle": 270, "align": "center", "baseline": "middle", "font": "Open Sans", "fontSize": 10.5, "color": "#4a4a4a"}, "encoding": {"x": {"datum": 418, "type": "quantitative", "scale": {"domain": [0,1061], "range": [0,1061]}, "axis": null}, "y": {"datum": 569, "type": "quantitative", "scale": {"domain": [0,606], "range": [0,606]}, "axis": null}}},

      {"mark": {"type": "rect", "color": "#dbe2ea"}, "encoding": {"x": {"datum": 997, "type": "quantitative", "scale": {"domain": [0,1061], "range": [0,1061]}, "axis": null}, "x2": {"datum": 1017}, "y": {"datum": 403, "type": "quantitative", "scale": {"domain": [0,606], "range": [0,606]}, "axis": null}, "y2": {"datum": 602}}},
      {"mark": {"type": "rect", "color": "#e9ebee"}, "encoding": {"x": {"datum": 1017, "type": "quantitative", "scale": {"domain": [0,1061], "range": [0,1061]}, "axis": null}, "x2": {"datum": 1038}, "y": {"datum": 403, "type": "quantitative", "scale": {"domain": [0,606], "range": [0,606]}, "axis": null}, "y2": {"datum": 602}}},
      {"mark": {"type": "rect", "color": "#3d85c6"}, "encoding": {"x": {"datum": 1017, "type": "quantitative", "scale": {"domain": [0,1061], "range": [0,1061]}, "axis": null}, "x2": {"datum": 1038}, "y": {"datum": 482, "type": "quantitative", "scale": {"domain": [0,606], "range": [0,606]}, "axis": null}, "y2": {"datum": 542}}},
      {"mark": {"type": "text", "text": "PD LOCALIZATION", "angle": 270, "align": "center", "baseline": "middle", "font": "Open Sans", "fontSize": 10, "color": "#4a4a4a"}, "encoding": {"x": {"datum": 1007, "type": "quantitative", "scale": {"domain": [0,1061], "range": [0,1061]}, "axis": null}, "y": {"datum": 483, "type": "quantitative", "scale": {"domain": [0,606], "range": [0,606]}, "axis": null}}},
      {"mark": {"type": "text", "text": "TREND", "angle": 270, "align": "center", "baseline": "middle", "font": "Open Sans", "fontSize": 10, "color": "#4a4a4a"}, "encoding": {"x": {"datum": 1008, "type": "quantitative", "scale": {"domain": [0,1061], "range": [0,1061]}, "axis": null}, "y": {"datum": 571, "type": "quantitative", "scale": {"domain": [0,606], "range": [0,606]}, "axis": null}}},
      {"mark": {"type": "text", "text": "Q(V)", "angle": 270, "align": "center", "baseline": "middle", "font": "Open Sans", "fontSize": 10, "fontWeight": "bold", "color": "#ffffff"}, "encoding": {"x": {"datum": 1027, "type": "quantitative", "scale": {"domain": [0,1061], "range": [0,1061]}, "axis": null}, "y": {"datum": 511, "type": "quantitative", "scale": {"domain": [0,606], "range": [0,606]}, "axis": null}}},
      {"mark": {"type": "text", "text": "FFT", "angle": 270, "align": "center", "baseline": "middle", "font": "Open Sans", "fontSize": 10, "color": "#4a4a4a"}, "encoding": {"x": {"datum": 1027, "type": "quantitative", "scale": {"domain": [0,1061], "range": [0,1061]}, "axis": null}, "y": {"datum": 572, "type": "quantitative", "scale": {"domain": [0,606], "range": [0,606]}, "axis": null}}},

      {"mark": {"type": "rect", "filled": false, "color": "#4b4b4b", "strokeWidth": 1.6}, "encoding": {"x": {"datum": 17, "type": "quantitative", "scale": {"domain": [0,1061], "range": [0,1061]}, "axis": null}, "x2": {"datum": 598}, "y": {"datum": 117, "type": "quantitative", "scale": {"domain": [0,606], "range": [0,606]}, "axis": null}, "y2": {"datum": 319}}},
      {"mark": {"type": "rect", "filled": false, "color": "#4b4b4b", "strokeWidth": 1.6}, "encoding": {"x": {"datum": 618, "type": "quantitative", "scale": {"domain": [0,1061], "range": [0,1061]}, "axis": null}, "x2": {"datum": 1040}, "y": {"datum": 114, "type": "quantitative", "scale": {"domain": [0,606], "range": [0,606]}, "axis": null}, "y2": {"datum": 382}}},
      {"mark": {"type": "rect", "filled": false, "color": "#4b4b4b", "strokeWidth": 1.6}, "encoding": {"x": {"datum": 17, "type": "quantitative", "scale": {"domain": [0,1061], "range": [0,1061]}, "axis": null}, "x2": {"datum": 429}, "y": {"datum": 341, "type": "quantitative", "scale": {"domain": [0,606], "range": [0,606]}, "axis": null}, "y2": {"datum": 601}}},
      {"mark": {"type": "rect", "filled": false, "color": "#4b4b4b", "strokeWidth": 1.6}, "encoding": {"x": {"datum": 511, "type": "quantitative", "scale": {"domain": [0,1061], "range": [0,1061]}, "axis": null}, "x2": {"datum": 1040}, "y": {"datum": 402, "type": "quantitative", "scale": {"domain": [0,606], "range": [0,606]}, "axis": null}, "y2": {"datum": 602}}},
      {"mark": {"type": "rect", "filled": false, "color": "#111111", "strokeWidth": 3}, "encoding": {"x": {"datum": 4, "type": "quantitative", "scale": {"domain": [0,1061], "range": [0,1061]}, "axis": null}, "x2": {"datum": 1057}, "y": {"datum": 4, "type": "quantitative", "scale": {"domain": [0,606], "range": [0,606]}, "axis": null}, "y2": {"datum": 650}}},

      {"mark": {"type": "text", "text": "triggered", "align": "center", "baseline": "middle", "font": "Open Sans", "fontSize": 8.5, "fontStyle": "italic", "color": "#e2383d"}, "encoding": {"x": {"datum": 511, "type": "quantitative", "scale": {"domain": [0,1061], "range": [0,1061]}, "axis": null}, "y": {"datum": 143, "type": "quantitative", "scale": {"domain": [0,606], "range": [0,606]}, "axis": null}}},

      {"mark": {"type": "text", "text": "Q", "angle": 270, "align": "left", "baseline": "middle", "font": "Open Sans", "fontSize": 11, "color": "#2b3f6b"}, "encoding": {"x": {"datum": 632, "type": "quantitative", "scale": {"domain": [0,1061], "range": [0,1061]}, "axis": null}, "y": {"datum": 255, "type": "quantitative", "scale": {"domain": [0,606], "range": [0,606]}, "axis": null}}},
      {"mark": {"type": "text", "text": "IEC", "angle": 270, "align": "left", "baseline": "middle", "font": "Open Sans", "fontSize": 7.5, "color": "#2b3f6b"}, "encoding": {"x": {"datum": 634.5, "type": "quantitative", "scale": {"domain": [0,1061], "range": [0,1061]}, "axis": null}, "y": {"datum": 246.4, "type": "quantitative", "scale": {"domain": [0,606], "range": [0,606]}, "axis": null}}},
      {"mark": {"type": "text", "text": "/ Q", "angle": 270, "align": "left", "baseline": "middle", "font": "Open Sans", "fontSize": 11, "color": "#2b3f6b"}, "encoding": {"x": {"datum": 632, "type": "quantitative", "scale": {"domain": [0,1061], "range": [0,1061]}, "axis": null}, "y": {"datum": 232.5, "type": "quantitative", "scale": {"domain": [0,606], "range": [0,606]}, "axis": null}}},
      {"mark": {"type": "text", "text": "WTD", "angle": 270, "align": "left", "baseline": "middle", "font": "Open Sans", "fontSize": 7.5, "color": "#2b3f6b"}, "encoding": {"x": {"datum": 634.5, "type": "quantitative", "scale": {"domain": [0,1061], "range": [0,1061]}, "axis": null}, "y": {"datum": 217, "type": "quantitative", "scale": {"domain": [0,606], "range": [0,606]}, "axis": null}}},
      {"mark": {"type": "text", "text": "Time", "align": "center", "baseline": "middle", "font": "Open Sans", "fontSize": 12, "color": "#333333"}, "encoding": {"x": {"datum": 828, "type": "quantitative", "scale": {"domain": [0,1061], "range": [0,1061]}, "axis": null}, "y": {"datum": 366, "type": "quantitative", "scale": {"domain": [0,606], "range": [0,606]}, "axis": null}}},

      {"mark": {"type": "text", "text": "Q", "angle": 270, "align": "left", "baseline": "middle", "font": "Open Sans", "fontSize": 11, "color": "#33406a"}, "encoding": {"x": {"datum": 33, "type": "quantitative", "scale": {"domain": [0,1061], "range": [0,1061]}, "axis": null}, "y": {"datum": 470, "type": "quantitative", "scale": {"domain": [0,606], "range": [0,606]}, "axis": null}}},
      {"mark": {"type": "text", "text": "m", "angle": 270, "align": "left", "baseline": "middle", "font": "Open Sans", "fontSize": 7.5, "color": "#33406a"}, "encoding": {"x": {"datum": 35.5, "type": "quantitative", "scale": {"domain": [0,1061], "range": [0,1061]}, "axis": null}, "y": {"datum": 461.4, "type": "quantitative", "scale": {"domain": [0,606], "range": [0,606]}, "axis": null}}},
      {"mark": {"type": "text", "text": "/ Q", "angle": 270, "align": "left", "baseline": "middle", "font": "Open Sans", "fontSize": 11, "color": "#33406a"}, "encoding": {"x": {"datum": 33, "type": "quantitative", "scale": {"domain": [0,1061], "range": [0,1061]}, "axis": null}, "y": {"datum": 451.6, "type": "quantitative", "scale": {"domain": [0,606], "range": [0,606]}, "axis": null}}},
      {"mark": {"type": "text", "text": "t", "angle": 270, "align": "left", "baseline": "middle", "font": "Open Sans", "fontSize": 7.5, "color": "#33406a"}, "encoding": {"x": {"datum": 35.5, "type": "quantitative", "scale": {"domain": [0,1061], "range": [0,1061]}, "axis": null}, "y": {"datum": 436.1, "type": "quantitative", "scale": {"domain": [0,606], "range": [0,606]}, "axis": null}}},
      {"mark": {"type": "text", "text": "Δt", "align": "center", "baseline": "middle", "font": "Open Sans", "fontSize": 12, "fontWeight": "bold", "color": "#1f3864"}, "encoding": {"x": {"datum": 223, "type": "quantitative", "scale": {"domain": [0,1061], "range": [0,1061]}, "axis": null}, "y": {"datum": 585, "type": "quantitative", "scale": {"domain": [0,606], "range": [0,606]}, "axis": null}}},

      {"mark": {"type": "text", "text": "Q", "angle": 270, "align": "left", "baseline": "middle", "font": "Open Sans", "fontSize": 9, "color": "#2b3f6b"}, "encoding": {"x": {"datum": 523, "type": "quantitative", "scale": {"domain": [0,1061], "range": [0,1061]}, "axis": null}, "y": {"datum": 497, "type": "quantitative", "scale": {"domain": [0,606], "range": [0,606]}, "axis": null}}},
      {"mark": {"type": "text", "text": "IEC", "angle": 270, "align": "left", "baseline": "middle", "font": "Open Sans", "fontSize": 6.5, "color": "#2b3f6b"}, "encoding": {"x": {"datum": 525.2, "type": "quantitative", "scale": {"domain": [0,1061], "range": [0,1061]}, "axis": null}, "y": {"datum": 490, "type": "quantitative", "scale": {"domain": [0,606], "range": [0,606]}, "axis": null}}},
      {"mark": {"type": "text", "text": "/ Q", "angle": 270, "align": "left", "baseline": "middle", "font": "Open Sans", "fontSize": 9, "color": "#2b3f6b"}, "encoding": {"x": {"datum": 523, "type": "quantitative", "scale": {"domain": [0,1061], "range": [0,1061]}, "axis": null}, "y": {"datum": 478.2, "type": "quantitative", "scale": {"domain": [0,606], "range": [0,606]}, "axis": null}}},
      {"mark": {"type": "text", "text": "WTD", "angle": 270, "align": "left", "baseline": "middle", "font": "Open Sans", "fontSize": 6.5, "color": "#2b3f6b"}, "encoding": {"x": {"datum": 525.2, "type": "quantitative", "scale": {"domain": [0,1061], "range": [0,1061]}, "axis": null}, "y": {"datum": 465.5, "type": "quantitative", "scale": {"domain": [0,606], "range": [0,606]}, "axis": null}}},
      {"mark": {"type": "text", "text": "V", "align": "left", "baseline": "middle", "font": "Open Sans", "fontSize": 10, "color": "#2b3f6b"}, "encoding": {"x": {"datum": 764, "type": "quantitative", "scale": {"domain": [0,1061], "range": [0,1061]}, "axis": null}, "y": {"datum": 586, "type": "quantitative", "scale": {"domain": [0,606], "range": [0,606]}, "axis": null}}},
      {"mark": {"type": "text", "text": "RMS", "align": "left", "baseline": "middle", "font": "Open Sans", "fontSize": 6.5, "color": "#2b3f6b"}, "encoding": {"x": {"datum": 770.5, "type": "quantitative", "scale": {"domain": [0,1061], "range": [0,1061]}, "axis": null}, "y": {"datum": 589, "type": "quantitative", "scale": {"domain": [0,606], "range": [0,606]}, "axis": null}}},

      {"mark": {"type": "text", "text": "2", "align": "center", "baseline": "alphabetic", "font": "'Liberation Sans Narrow', 'Liberation Sans'", "fontSize": 95, "color": "#000000"}, "encoding": {"x": {"datum": 107.5, "type": "quantitative", "scale": {"domain": [0,1061], "range": [0,1061]}, "axis": null}, "y": {"datum": 85, "type": "quantitative", "scale": {"domain": [0,606], "range": [0,606]}, "axis": null}}},
      {"mark": {"type": "rule", "color": "#ee1c1c", "strokeWidth": 3.5}, "encoding": {"x": {"datum": 143, "type": "quantitative", "scale": {"domain": [0,1061], "range": [0,1061]}, "axis": null}, "x2": {"datum": 290}, "y": {"datum": 48, "type": "quantitative", "scale": {"domain": [0,606], "range": [0,606]}, "axis": null}}},
      {"mark": {"type": "point", "shape": "triangle-right", "size": 150, "filled": true, "opacity": 1, "color": "#ee1c1c"}, "encoding": {"x": {"datum": 294, "type": "quantitative", "scale": {"domain": [0,1061], "range": [0,1061]}, "axis": null}, "y": {"datum": 48, "type": "quantitative", "scale": {"domain": [0,606], "range": [0,606]}, "axis": null}}},

      {"mark": {"type": "text", "text": "Esta", "align": "left", "baseline": "alphabetic", "font": "Liberation Sans", "fontSize": 26.5, "color": "#111111"}, "encoding": {"x": {"datum": 312, "type": "quantitative", "scale": {"domain": [0,1061], "range": [0,1061]}, "axis": null}, "y": {"datum": 45, "type": "quantitative", "scale": {"domain": [0,606], "range": [0,606]}, "axis": null}}},
      {"mark": {"type": "text", "text": "ventana", "align": "left", "baseline": "alphabetic", "font": "Liberation Sans", "fontSize": 26.5, "color": "#111111"}, "encoding": {"x": {"datum": 386, "type": "quantitative", "scale": {"domain": [0,1061], "range": [0,1061]}, "axis": null}, "y": {"datum": 45, "type": "quantitative", "scale": {"domain": [0,606], "range": [0,606]}, "axis": null}}},
      {"mark": {"type": "text", "text": "alberga", "align": "left", "baseline": "alphabetic", "font": "Liberation Sans", "fontSize": 26.5, "color": "#111111"}, "encoding": {"x": {"datum": 502, "type": "quantitative", "scale": {"domain": [0,1061], "range": [0,1061]}, "axis": null}, "y": {"datum": 45, "type": "quantitative", "scale": {"domain": [0,606], "range": [0,606]}, "axis": null}}},
      {"mark": {"type": "text", "text": "los", "align": "left", "baseline": "alphabetic", "font": "Liberation Sans", "fontSize": 26.5, "color": "#111111"}, "encoding": {"x": {"datum": 616, "type": "quantitative", "scale": {"domain": [0,1061], "range": [0,1061]}, "axis": null}, "y": {"datum": 45, "type": "quantitative", "scale": {"domain": [0,606], "range": [0,606]}, "axis": null}}},
      {"mark": {"type": "text", "text": "diagramas", "align": "left", "baseline": "alphabetic", "font": "Liberation Sans", "fontSize": 26.5, "color": "#111111"}, "encoding": {"x": {"datum": 673, "type": "quantitative", "scale": {"domain": [0,1061], "range": [0,1061]}, "axis": null}, "y": {"datum": 45, "type": "quantitative", "scale": {"domain": [0,606], "range": [0,606]}, "axis": null}}},
      {"mark": {"type": "text", "text": "como:", "align": "left", "baseline": "alphabetic", "font": "Liberation Sans", "fontSize": 26.5, "color": "#111111"}, "encoding": {"x": {"datum": 820, "type": "quantitative", "scale": {"domain": [0,1061], "range": [0,1061]}, "axis": null}, "y": {"datum": 45, "type": "quantitative", "scale": {"domain": [0,606], "range": [0,606]}, "axis": null}}},
      {"mark": {"type": "text", "text": "FFT,", "align": "left", "baseline": "alphabetic", "font": "Liberation Sans", "fontSize": 26.5, "color": "#24579e"}, "encoding": {"x": {"datum": 910, "type": "quantitative", "scale": {"domain": [0,1061], "range": [0,1061]}, "axis": null}, "y": {"datum": 45, "type": "quantitative", "scale": {"domain": [0,606], "range": [0,606]}, "axis": null}}},
      {"mark": {"type": "text", "text": "Q(V),", "align": "left", "baseline": "alphabetic", "font": "Liberation Sans", "fontSize": 26.5, "color": "#24579e"}, "encoding": {"x": {"datum": 986, "type": "quantitative", "scale": {"domain": [0,1061], "range": [0,1061]}, "axis": null}, "y": {"datum": 45, "type": "quantitative", "scale": {"domain": [0,606], "range": [0,606]}, "axis": null}}},
      {"mark": {"type": "text", "text": "Tendencia y localización de PD.", "align": "left", "baseline": "alphabetic", "font": "Liberation Sans", "fontSize": 26.5, "color": "#24579e"}, "encoding": {"x": {"datum": 312, "type": "quantitative", "scale": {"domain": [0,1061], "range": [0,1061]}, "axis": null}, "y": {"datum": 82, "type": "quantitative", "scale": {"domain": [0,606], "range": [0,606]}, "axis": null}}}
    ]
  }
],
"resolve": {"scale": {"x": "independent", "y": "independent"}, "axis": {"x": "independent", "y": "independent"}}
}
